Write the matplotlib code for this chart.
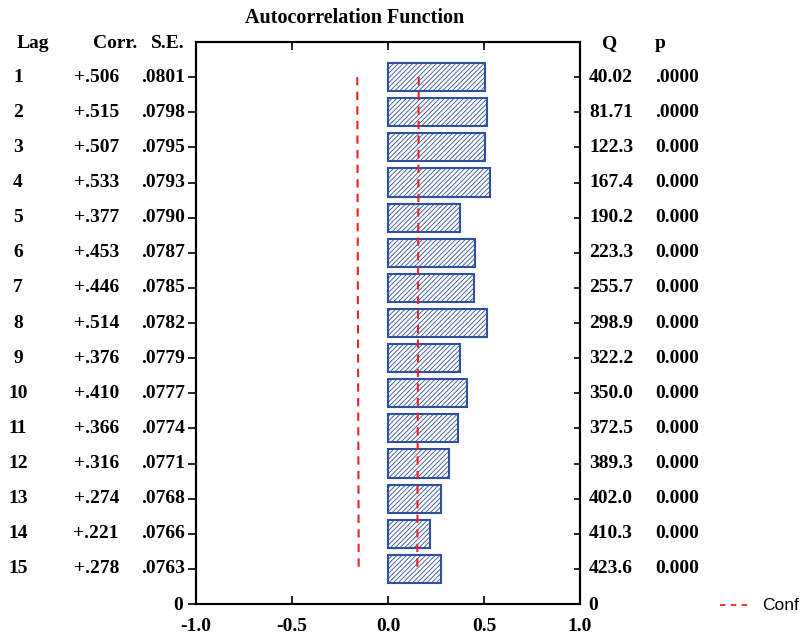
import numpy as np
import matplotlib.pyplot as plt
from matplotlib.transforms import blended_transform_factory

lags = list(range(1, 16))
corr = [0.506, 0.515, 0.507, 0.533, 0.377, 0.453, 0.446, 0.514,
        0.376, 0.410, 0.366, 0.316, 0.274, 0.221, 0.278]
se = [0.0801, 0.0798, 0.0795, 0.0793, 0.0790, 0.0787, 0.0785, 0.0782,
      0.0779, 0.0777, 0.0774, 0.0771, 0.0768, 0.0766, 0.0763]
q_stat = ["40.02", "81.71", "122.3", "167.4", "190.2", "223.3", "255.7", "298.9",
          "322.2", "350.0", "372.5", "389.3", "402.0", "410.3", "423.6"]
p_vals = [".0000", ".0000"] + ["0.000"] * 13
corr_text = ["+.506", "+.515", "+.507", "+.533", "+.377", "+.453", "+.446", "+.514",
             "+.376", "+.410", "+.366", "+.316", "+.274", "+.221", "+.278"]

plt.rcParams['font.family'] = 'Liberation Serif'
plt.rcParams['font.weight'] = 'bold'
plt.rcParams['hatch.linewidth'] = 0.6
plt.rcParams['hatch.color'] = '#2f4f9f'

blue = '#2f4f9f'
red = '#ee2222'
fs = 14

fig = plt.figure(figsize=(8.04, 6.39), dpi=100)
ax = fig.add_axes([196 / 804, 35 / 639, 384 / 804, 562 / 639])

ypos = np.array([16 - k for k in lags])
ax.barh(ypos, corr, height=0.8, left=0, color='white', edgecolor=blue,
        linewidth=1.5, hatch='///////')

# +/- 2 standard errors
lim = 2 * np.array(se)
ax.plot(lim, ypos, color=red, ls=(0, (4, 3)), lw=1.5)
ax.plot(-lim, ypos, color=red, ls=(0, (4, 3)), lw=1.5)

ax.set_xlim(-1, 1)
ax.set_ylim(0, 16)
ax.set_xticks([-1, -0.5, 0, 0.5, 1])
ax.set_xticklabels(["-1.0", "-0.5", "0.0", "0.5", "1.0"], fontsize=fs, fontweight='bold')
ax.tick_params(axis='x', direction='in', top=True, length=6, width=1.2, pad=10)
ax.set_yticks([0] + list(ypos))
ax.set_yticklabels(["0"] + [""] * len(ypos), fontsize=fs, fontweight='bold')
ax.tick_params(axis='y', direction='out', length=6, width=1.2, pad=3)

ax2 = ax.twinx()
ax2.set_ylim(0, 16)
ax2.set_yticks([0] + list(ypos))
ax2.set_yticklabels(["0"] + [""] * len(ypos), fontsize=fs, fontweight='bold')
ax2.tick_params(axis='y', direction='in', length=4, width=1.2, pad=6)

for a in (ax, ax2):
    for s in a.spines.values():
        s.set_linewidth(1.5)

tr = blended_transform_factory(fig.transFigure, ax.transData)
for y, lag, ct, s, q, p in zip(ypos, lags, corr_text, se, q_stat, p_vals):
    ax.text(18 / 804, y, str(lag), transform=tr, ha='center', va='center', fontsize=fs, fontweight='bold')
    ax.text(119 / 804, y, ct, transform=tr, ha='right', va='center', fontsize=fs, fontweight='bold')
    ax.text(185 / 804, y, f"{s:.4f}"[1:], transform=tr, ha='right', va='center', fontsize=fs, fontweight='bold')
    ax.text(589 / 804, y, q, transform=tr, ha='left', va='center', fontsize=fs, fontweight='bold')
    ax.text(655 / 804, y, p, transform=tr, ha='left', va='center', fontsize=fs, fontweight='bold')

yh = 1 - 44 / 639
fig.text(17 / 804, yh, "Lag", ha='left', va='center', fontsize=fs, fontweight='bold')
fig.text(137 / 804, yh, "Corr.", ha='right', va='center', fontsize=fs, fontweight='bold')
fig.text(185 / 804, yh, "S.E.", ha='right', va='center', fontsize=fs, fontweight='bold')
fig.text(602 / 804, yh, "Q", ha='left', va='center', fontsize=fs, fontweight='bold')
fig.text(655 / 804, yh, "p", ha='left', va='center', fontsize=fs, fontweight='bold')

fig.text(355 / 804, 1 - 18 / 639, "Autocorrelation Function", ha='center', va='center',
         fontsize=14.5, fontweight='bold')

# legend entry for the confidence limits
fig.add_artist(plt.Line2D([720 / 804, 752 / 804], [1 - 605 / 639] * 2, color=red,
                          ls=(0, (3, 3)), lw=1.3, transform=fig.transFigure))
fig.text(762 / 804, 1 - 605 / 639, "Conf", ha='left', va='center', fontsize=12.5,
         fontweight='normal', family='Liberation Sans')

fig.savefig("out.png", dpi=100)
